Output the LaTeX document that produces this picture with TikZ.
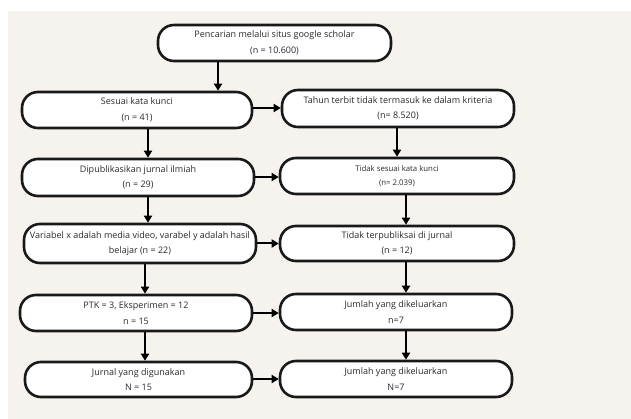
\documentclass[tikz,border=0pt]{standalone}
\usepackage{fontspec}
\setmainfont{Open Sans}
\usetikzlibrary{arrows.meta}
\definecolor{bgc}{HTML}{F6F3EF}
\definecolor{txt}{HTML}{2A2A2A}
\tikzset{
  box/.style={draw=black!90, line width=2.6pt, fill=white, rounded corners=16pt, align=center,
    font=\fontsize{9}{15.5}\selectfont, text=txt, inner sep=0pt},
  arr/.style={draw=black, line width=2pt, -{Triangle[length=7pt,width=8pt]}}
}
\begin{document}
\begin{tikzpicture}[x=1pt,y=-1pt]
\useasboundingbox (0,0) rectangle (631,419);
\fill[bgc] (8,11) rectangle (631,419);
\node[box, minimum width=233pt, minimum height=36pt] (top) at (274.5,43) {Pencarian melalui situs google scholar\\(n = 10.600)};
\node[box, minimum width=230pt, minimum height=36pt] (L1) at (137,110) {Sesuai kata kunci\\(n = 41)};
\node[box, minimum width=232pt, minimum height=37pt] (R1) at (398,108.5) {Tahun terbit tidak termasuk ke dalam kriteria\\(n= 8.520)};
\node[box, minimum width=232pt, minimum height=37pt] (L2) at (138,177.5) {Dipublikasikan jurnal ilmiah\\(n = 29)};
\node[box, minimum width=234pt, minimum height=36pt, font=\fontsize{7.8}{14.5}\selectfont] (R2) at (397,176) {Tidak sesuai kata kunci\\(n= 2.039)};
\node[box, minimum width=232pt, minimum height=39pt] (L3) at (140,243.5) {Variabel x adalah media video, varabel y adalah hasil\\belajar (n = 22)};
\node[box, minimum width=234pt, minimum height=35pt] (R3) at (397,243.5) {Tidak terpubliksai di jurnal\\(n = 12)};
\node[box, minimum width=232pt, minimum height=36pt] (L4) at (136,313) {PTK = 3, Eksperimen = 12\\n = 15};
\node[box, minimum width=232pt, minimum height=36pt] (R4) at (396,312) {Jumlah yang dikeluarkan\\n=7};
\node[box, minimum width=227pt, minimum height=35pt] (L5) at (138.5,379.5) {Jurnal yang digunakan\\N = 15};
\node[box, minimum width=232pt, minimum height=36pt] (R5) at (396,379) {Jumlah yang dikeluarkan\\N=7};
% vertical arrows
\draw[arr] (top.south -| 218,0) -- (L1.north -| 218,0);
\draw[arr] (L1.south -| 148,0) -- (L2.north -| 148,0);
\draw[arr] (R1.south -| 397,0) -- (R2.north -| 397,0);
\draw[arr] (L2.south -| 148,0) -- (L3.north -| 148,0);
\draw[arr] (R2.south -| 406,0) -- (R3.north -| 406,0);
\draw[arr] (L3.south -| 145,0) -- (L4.north -| 145,0);
\draw[arr] (R3.south -| 406,0) -- (R4.north -| 406,0);
\draw[arr] (L4.south -| 145,0) -- (L5.north -| 145,0);
\draw[arr] (R4.south -| 406,0) -- (R5.north -| 406,0);
% horizontal arrows
\draw[arr] (L1.east |- 0,108) -- (R1.west |- 0,108);
\draw[arr] (L2.east |- 0,177) -- (R2.west |- 0,177);
\draw[arr] (L3.east) -- (R3.west);
\draw[arr] (L4.east |- 0,313) -- (R4.west |- 0,313);
\draw[arr] (L5.east |- 0,379) -- (R5.west |- 0,379);
\end{tikzpicture}
\end{document}
